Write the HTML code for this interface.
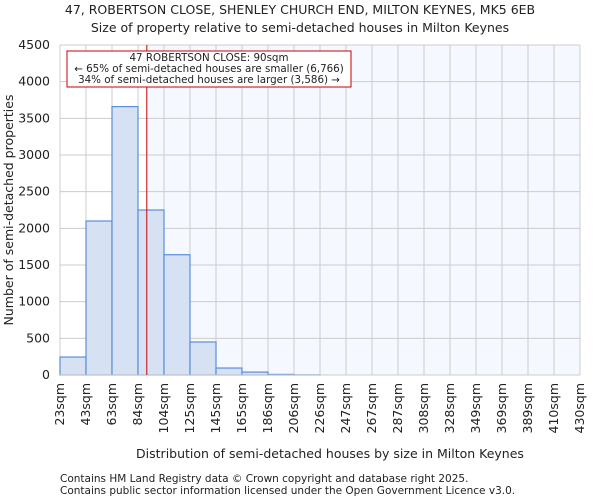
<!DOCTYPE html>
<html><head><meta charset="utf-8"><style>
body{margin:0;background:#fff;font-family:"DejaVu Sans","Liberation Sans",sans-serif;}
svg text{font-family:"DejaVu Sans","Liberation Sans",sans-serif;fill:#222;}
</style></head><body>
<svg id="c" width="600" height="500">
<text x="300" y="14" font-size="12.5" text-anchor="middle">47, ROBERTSON CLOSE, SHENLEY CHURCH END, MILTON KEYNES, MK5 6EB</text>
<text x="300" y="32" font-size="12.5" text-anchor="middle">Size of property relative to semi-detached houses in Milton Keynes</text>
<g id="plot"></g>
<text x="330" y="458" font-size="12.5" text-anchor="middle">Distribution of semi-detached houses by size in Milton Keynes</text>
<text transform="translate(13,210) rotate(-90)" font-size="12.5" text-anchor="middle">Number of semi-detached properties</text>
<text x="60" y="482" font-size="10.5">Contains HM Land Registry data © Crown copyright and database right 2025.</text>
<text x="60" y="494" font-size="10.5">Contains public sector information licensed under the Open Government Licence v3.0.</text>
</svg>
<script>
const categories=["23sqm","43sqm","63sqm","84sqm","104sqm","125sqm","145sqm","165sqm","186sqm","206sqm","226sqm","247sqm","267sqm","287sqm","308sqm","328sqm","349sqm","369sqm","389sqm","410sqm","430sqm"];
const counts=[245,2100,3660,2250,1640,450,95,40,8,2,0,0,0,0,0,0,0,0,0,0];
const yTicks=[0,500,1000,1500,2000,2500,3000,3500,4000,4500];
const propertySize=90;
const binEdges=[23,43,63,84,104,125,145,165,186,206,226,247,267,287,308,328,349,369,389,410,430];
const NS="http://www.w3.org/2000/svg";
const X0=60,X1=580,Y0=375,Y1=45,YMAX=4500;
const bw=(X1-X0)/counts.length;
const xi=i=>X0+i*bw;
const y=v=>Y0-(v/YMAX)*(Y0-Y1);
function xv(v){for(let i=0;i<binEdges.length-1;i++){if(v>=binEdges[i]&&v<=binEdges[i+1])return xi(i)+bw*(v-binEdges[i])/(binEdges[i+1]-binEdges[i]);}return X0;}
const g=document.getElementById('plot');
function mk(t,a){const e=document.createElementNS(NS,t);for(const k in a)e.setAttribute(k,a[k]);g.appendChild(e);return e;}
const lx=xv(propertySize)+1;
let e=mk('rect',{x:X0,y:Y1,width:X1-X0,height:Y0-Y1,fill:'#fff'});


e=mk('rect',{x:lx,y:Y1,width:X1-lx,height:Y0-Y1,fill:'#f5f8fe'});


categories.forEach((c,i)=>{e=mk('line',{x1:xi(i),x2:xi(i),y1:Y1,y2:Y0,stroke:'#ccc','stroke-width':1});


e=mk('text',{transform:`translate(${xi(i)+4},${Y0+8}) rotate(-90)`,'font-size':12.5,'text-anchor':'end'});e.textContent=c;

});
yTicks.forEach(t=>{e=mk('line',{x1:X0,x2:X1,y1:y(t),y2:y(t),stroke:'#ccc','stroke-width':1});


e=mk('text',{x:X0-10,y:y(t)+4,'font-size':12.5,'text-anchor':'end'});e.textContent=t;

});
counts.forEach((v,i)=>{if(v<=0)return;e=mk('rect',{x:xi(i),y:y(v),width:bw,height:Y0-y(v),fill:'#d6e1f3',stroke:'#5a8fd8','stroke-width':1.2});

});
e=mk('line',{x1:X0,x2:X1,y1:Y0,y2:Y0,stroke:'#ccc','stroke-width':1});


e=mk('line',{x1:lx,x2:lx,y1:Y1,y2:Y0,stroke:'#cc0000','stroke-width':1});


e=mk('rect',{x:67,y:51,width:284,height:36,fill:'#fff',stroke:'#cc0000','stroke-width':1});


const lines=["47 ROBERTSON CLOSE: 90sqm","← 65% of semi-detached houses are smaller (6,766)","34% of semi-detached houses are larger (3,586) →"];
lines.forEach((t,k)=>{e=mk('text',{x:209,y:61+k*11,'font-size':10.3,'text-anchor':'middle'});e.textContent=t;

});
</script>
</body></html>
